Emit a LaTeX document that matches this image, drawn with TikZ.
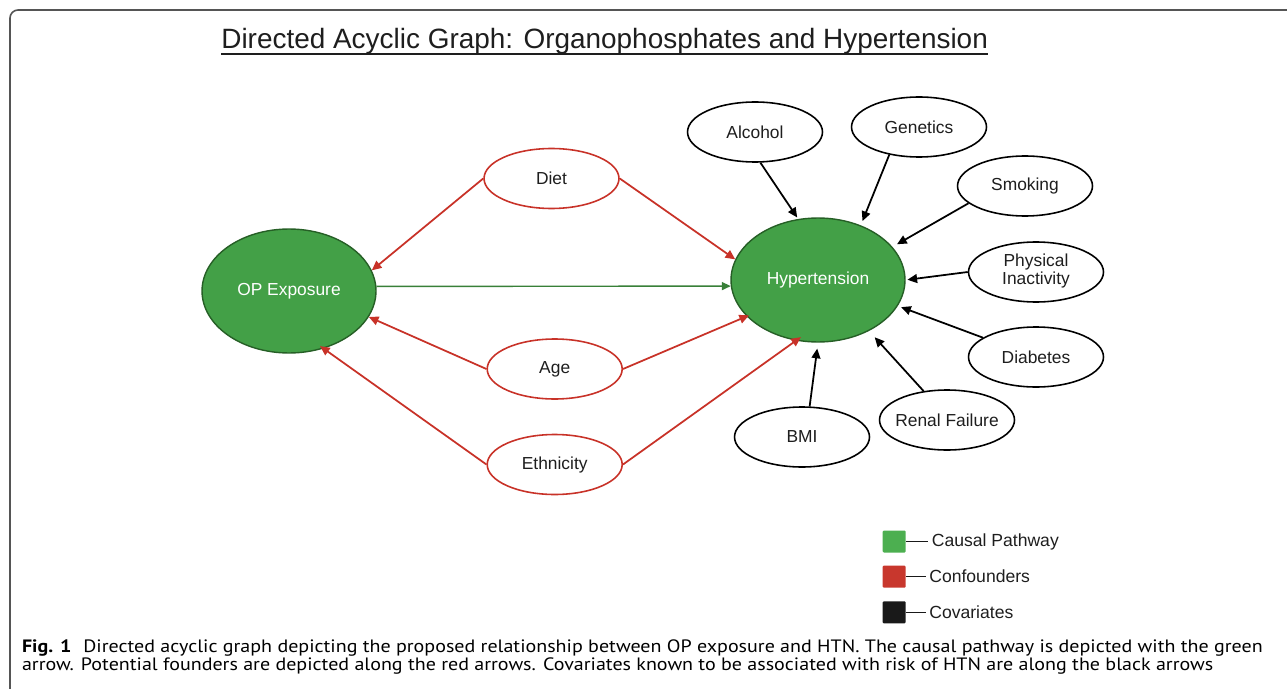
\documentclass[tikz,border=0pt]{standalone}
\usepackage{fontspec}
\setmainfont{Liberation Sans}
\newfontfamily\capfont{PT Sans}
\usetikzlibrary{arrows.meta,shapes.geometric}
\definecolor{nodegreen}{RGB}{67,160,71}
\definecolor{edgegreen}{RGB}{38,95,38}
\definecolor{arrowgreen}{RGB}{56,128,56}
\definecolor{confred}{RGB}{200,50,40}
\definecolor{leggreen}{RGB}{76,175,80}
\definecolor{legred}{RGB}{200,55,45}
\definecolor{legblack}{RGB}{25,25,25}
\definecolor{framegray}{RGB}{85,85,85}
\definecolor{txt}{RGB}{30,30,30}
\newcommand{\zw}[1]{\makebox[0pt]{#1}}
\begin{document}
\begin{tikzpicture}[x=0.02cm,y=-0.02cm,
  every node/.style={font=\fontsize{9.9pt}{10.3pt}\selectfont, text=txt},
  bigellipse/.style={ellipse, draw=edgegreen, fill=nodegreen, line width=0.8pt,
    minimum width=3.48cm, minimum height=2.48cm, inner sep=0pt, text=white},
  confnode/.style={ellipse, draw=confred, fill=white, line width=0.9pt,
    minimum width=2.7cm, minimum height=1.2cm, inner sep=0pt},
  covnode/.style={ellipse, draw=black, fill=white, line width=0.9pt,
    minimum width=2.7cm, minimum height=1.2cm, inner sep=0pt},
  covarrow/.style={draw=black, line width=1pt, -{Triangle[length=5.5pt,width=5pt]}},
  confarrow/.style={draw=confred, line width=1pt, -{Triangle[length=5.5pt,width=5pt]}},
  causalarrow/.style={draw=arrowgreen, line width=0.8pt, -{Triangle[length=5pt,width=4.5pt]}},
  legsq/.style={minimum width=0.46cm, minimum height=0.44cm, inner sep=0pt, rounded corners=0.6pt},
  legtext/.style={anchor=west, inner ysep=0pt, inner xsep=0.07cm, font=\fontsize{10pt}{12pt}\selectfont},
  captext/.style={anchor=base west, inner sep=0pt, text=black, font=\capfont\fontsize{10.2pt}{12pt}\selectfont},
]
\useasboundingbox (0,0) rectangle (1287,689);
\clip (0,0) rectangle (1287,689);
% frame
\draw[framegray, line width=0.9pt, rounded corners=0.16cm] (10,10) rectangle (1320,720);

% title
\node[anchor=base west, inner sep=0pt, font=\fontsize{15.9pt}{18pt}\selectfont] (title) at (221,48.5)
  {Directed Acyclic Graph: Organophosphates and Hypertension};
\draw[txt, line width=1.1pt] ([yshift=-2.9pt]title.base west) -- ([yshift=-2.9pt]title.base east);

% main nodes
\node[bigellipse] (op) at (289,291) {OP Exposure};
\node[bigellipse] (htn) at (818,280) {Hypertension};

% confounders
\node[confnode] (diet) at (551.5,178.5) {Diet};
\node[confnode] (age) at (554.7,369) {Age};
\node[confnode] (eth) at (554.7,464.5) {Ethnicity};

% covariates
\node[covnode] (alc) at (755,132) {Alcohol};
\node[covnode] (gen) at (919,127) {Genetics};
\node[covnode] (smk) at (1025,186) {Smoking};
\node[covnode] (pia) at (1036,272) {\zw{\begin{tabular}{@{}c@{}}Physical\\Inactivity\end{tabular}}};
\node[covnode] (dia) at (1036,357) {Diabetes};
\node[covnode] (ren) at (947,420) {\zw{Renal Failure}};
\node[covnode] (bmi) at (802,437) {BMI};

% causal pathway
\draw[causalarrow] (op.3.9) -- (htn.-176.7);

% confounder arrows
\draw[confarrow] (diet.180) -- (op.14);
\draw[confarrow] (diet.0) -- (htn.166);
\draw[confarrow] (age.180) -- (op.-18);
\draw[confarrow, shorten >=-1.5pt] (age.0) -- (htn.-153.8);
\draw[confarrow, shorten >=-2.5pt] (eth.180) -- (op.-59.7);
\draw[confarrow, shorten >=-3.5pt] (eth.0) -- (htn.-110.3);

% covariate arrows
\draw[covarrow, shorten >=1pt] (alc.-80) -- (htn.108.7);
\draw[covarrow, shorten >=2.6pt] (gen.-137) -- (htn.52);
\draw[covarrow, shorten >=3pt] (smk.-163.7) -- (htn.24.8);
\draw[covarrow, shorten >=1pt] (pia.180) -- (htn.-0.6);
\draw[covarrow, shorten >=2pt] (dia.160) -- (htn.-18.9);
\draw[covarrow, shorten >=4.8pt] (ren.129) -- (htn.-45.5);
\draw[covarrow, shorten >=3.4pt] (bmi.76) -- (htn.-90);

% legend
\node[legsq, fill=leggreen] (lg) at (894.2,541.5) {};
\node[legsq, fill=legred] (lr) at (894.2,576.7) {};
\node[legsq, fill=legblack] (lb) at (894.2,612.3) {};
\node[legtext] (tg) at (928,541.5) {Causal Pathway};
\node[legtext] (tr) at (925.5,576.7) {Confounders};
\node[legtext] (tb) at (925.5,612.3) {Covariates};
\draw[legblack, line width=0.9pt] (lg.east) -- (tg.west);
\draw[legblack, line width=0.9pt] (lr.east) -- (tr.west);
\draw[legblack, line width=0.9pt] (lb.east) -- (tb.west);

% caption
\node[captext] (cap1) at (21.7,652.7)
  {\scalebox{1.117}[1]{\textbf{Fig. 1}\hspace{0.6em}Directed acyclic graph depicting the proposed relationship between OP exposure and HTN. The causal pathway is depicted with the green}};
\node[captext] (cap2) at (21.7,670.5)
  {\scalebox{1.117}[1]{arrow. Potential founders are depicted along the red arrows. Covariates known to be associated with risk of HTN are along the black arrows}};
\end{tikzpicture}
\end{document}
